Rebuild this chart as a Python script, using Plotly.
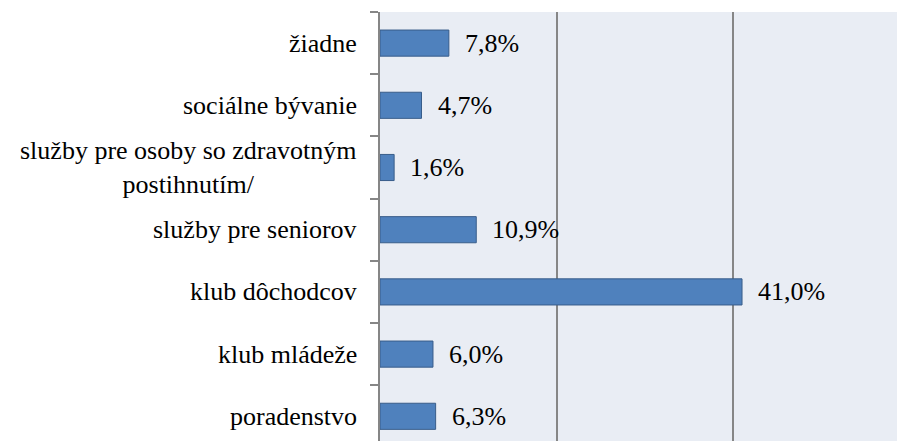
import plotly.graph_objects as go

# bottom to top, as plotly draws categories
categories = [
    "poradenstvo",
    "klub mládeže",
    "klub dôchodcov",
    "služby pre seniorov",
    "služby pre osoby so zdravotným<br>postihnutím/",
    "sociálne bývanie",
    "žiadne",
]
shares = [6.3, 6.0, 41.0, 10.9, 1.6, 4.7, 7.8]

FONT = "Liberation Serif"
GREY = "#868686"

labels = [f"{v:.1f}".replace(".", ",") + "%" for v in shares]

fig = go.Figure(
    go.Bar(
        x=shares,
        y=categories,
        orientation="h",
        width=0.42,
        marker=dict(color="#4F81BD", line=dict(color="#385D8A", width=1)),
        hoverinfo="skip",
    )
)

# value labels to the right of each bar
for cat, val, lab in zip(categories, shares, labels):
    fig.add_annotation(
        x=val, y=cat, text=lab, showarrow=False,
        xanchor="left", xshift=14,
        font=dict(family=FONT, size=26, color="black"),
    )

# category labels, centred lines for the wrapped one
for cat in categories:
    fig.add_annotation(
        x=0, xref="paper", y=cat, text=cat, showarrow=False,
        xanchor="right", xshift=-21, align="center",
        font=dict(family=FONT, size=26, color="black"),
    )

fig.update_layout(
    width=897,
    height=441,
    margin=dict(l=380, r=0, t=12, b=0),
    paper_bgcolor="white",
    plot_bgcolor="#E9EDF4",
    showlegend=False,
    font=dict(family=FONT),
)
# the source chart is cropped on the right and bottom
fig.update_xaxes(
    range=[0, 58.55],
    dtick=20,
    showgrid=True,
    gridcolor=GREY,
    gridwidth=1.5,
    zeroline=False,
    showticklabels=False,
)
fig.update_yaxes(
    range=[-0.397, 6.5],
    showticklabels=False,
    showgrid=False,
    showline=True,
    linecolor=GREY,
    linewidth=1.5,
    ticks="outside",
    tickson="boundaries",
    ticklen=8,
    tickcolor=GREY,
    tickwidth=1.5,
)

fig.write_html(
    "out.html",
    config={"displayModeBar": False},
    post_script="document.body.style.margin='0';document.body.style.overflow='hidden';",
)
